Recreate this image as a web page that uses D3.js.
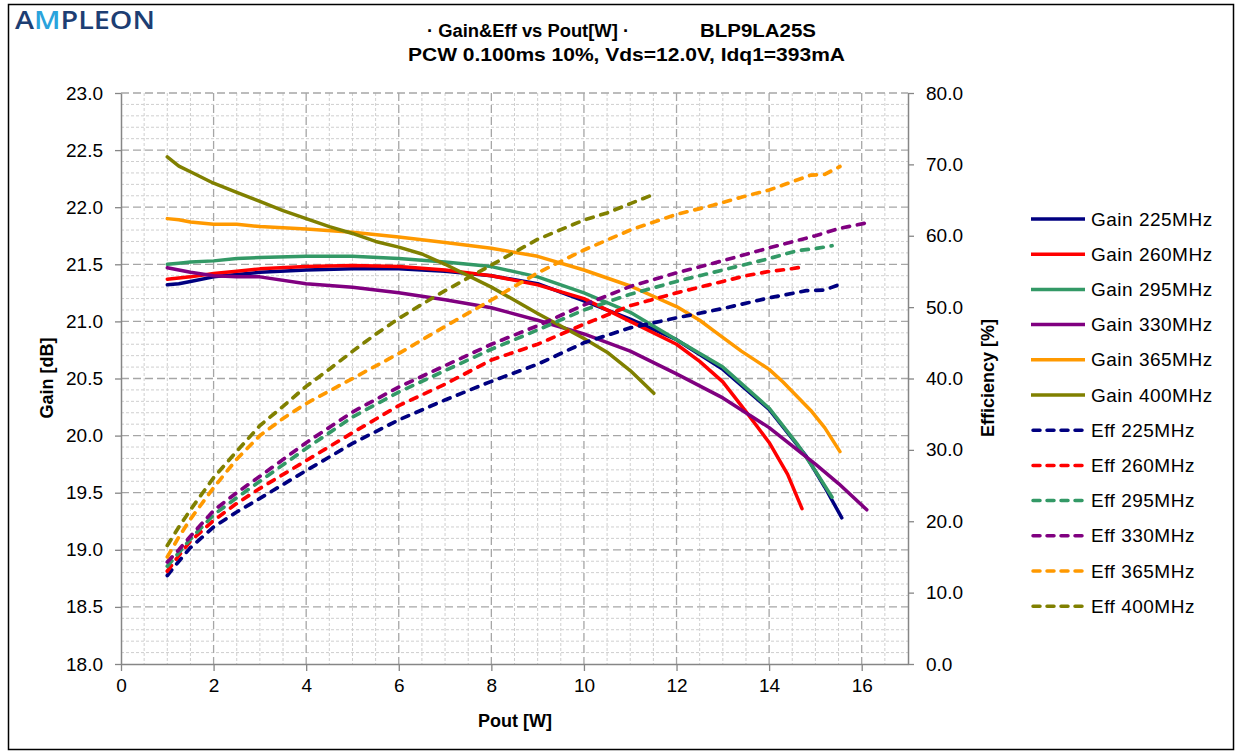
<!DOCTYPE html>
<html>
<head>
<meta charset="utf-8">
<script src="https://cdn.jsdelivr.net/npm/d3@7"></script>
<style>
  body { margin: 0; background: #fff; }
  text { font-family: Arial, "Liberation Sans", sans-serif; }
</style>
</head>
<body>
<svg id="chart" width="1240" height="753"></svg>
<script>
// ---- Measured data: Pout [W], Gain [dB], Drain efficiency [%] per frequency ----
const frequencies = ["225MHz", "260MHz", "295MHz", "330MHz", "365MHz", "400MHz"];
const seriesColors = ["#000080", "#ff0000", "#339966", "#800080", "#ff9900", "#808000"];

const pout225 = [1.0, 1.25, 1.5, 2.0, 2.5, 3.0, 4.0, 5.0, 6.0, 7.0, 8.0, 9.0, 10.0, 11.0, 12.0, 13.0, 14.0, 14.8, 15.2, 15.57];
const gain225 = [21.32, 21.33, 21.35, 21.39, 21.41, 21.43, 21.45, 21.46, 21.46, 21.44, 21.40, 21.33, 21.18, 21.02, 20.84, 20.58, 20.23, 19.82, 19.55, 19.28];
const eff225  = [12.4, 14.4, 16.3, 19.2, 21.3, 23.2, 27.1, 30.9, 34.2, 37.0, 39.6, 42.0, 45.0, 47.1, 48.5, 49.8, 51.3, 52.3, 52.4, 53.3];

const pout260 = [1.0, 1.25, 1.5, 2.0, 2.5, 3.0, 4.0, 5.0, 6.0, 7.0, 8.0, 9.0, 10.0, 11.0, 12.0, 12.5, 13.0, 13.5, 14.0, 14.4, 14.71];
const gain260 = [21.37, 21.38, 21.39, 21.42, 21.44, 21.46, 21.48, 21.49, 21.48, 21.45, 21.40, 21.32, 21.20, 21.00, 20.80, 20.65, 20.47, 20.21, 19.94, 19.66, 19.36];
const eff260  = [13.0, 15.2, 17.2, 20.1, 22.5, 24.6, 28.5, 32.4, 36.2, 39.2, 42.6, 44.8, 47.6, 50.2, 52.0, 52.8, 53.6, 54.4, 55.0, 55.3, 55.6];

const pout295 = [1.0, 1.25, 1.5, 2.0, 2.5, 3.0, 4.0, 5.0, 6.0, 7.0, 8.0, 9.0, 10.0, 11.0, 12.0, 13.0, 14.0, 14.6, 15.0, 15.36];
const gain295 = [21.50, 21.51, 21.52, 21.53, 21.55, 21.56, 21.57, 21.57, 21.55, 21.52, 21.48, 21.39, 21.25, 21.08, 20.84, 20.60, 20.24, 19.93, 19.69, 19.46];
const eff295  = [13.7, 15.6, 17.5, 20.9, 23.3, 25.6, 30.2, 34.6, 38.1, 41.1, 44.1, 46.8, 49.6, 51.8, 53.6, 55.2, 56.8, 57.9, 58.2, 58.6];

const pout330 = [1.0, 1.25, 1.5, 2.0, 2.5, 3.0, 4.0, 5.0, 6.0, 7.0, 8.0, 9.0, 10.0, 11.0, 12.0, 13.0, 14.0, 15.0, 15.5, 16.11];
const gain330 = [21.47, 21.45, 21.43, 21.40, 21.39, 21.39, 21.33, 21.30, 21.25, 21.19, 21.12, 21.01, 20.89, 20.74, 20.54, 20.33, 20.07, 19.75, 19.58, 19.35];
const eff330  = [14.3, 16.0, 17.9, 21.5, 24.0, 26.3, 31.0, 35.3, 38.8, 41.8, 44.8, 47.4, 50.3, 52.9, 54.8, 56.5, 58.3, 60.0, 61.0, 61.8];

const pout365 = [1.0, 1.25, 1.5, 2.0, 2.5, 3.0, 3.5, 4.0, 5.0, 6.0, 7.0, 8.0, 9.0, 10.0, 11.0, 12.0, 12.5, 12.8, 13.4, 14.0, 14.3, 14.9, 15.2, 15.53];
const gain365 = [21.90, 21.89, 21.87, 21.85, 21.85, 21.83, 21.82, 21.81, 21.78, 21.74, 21.69, 21.64, 21.57, 21.45, 21.31, 21.13, 21.01, 20.92, 20.74, 20.58, 20.47, 20.22, 20.07, 19.86];
const eff365  = [15.0, 17.8, 20.3, 24.7, 28.7, 32.0, 34.4, 36.5, 40.0, 43.5, 47.3, 51.0, 54.8, 58.0, 60.8, 63.0, 63.8, 64.3, 65.4, 66.4, 67.1, 68.5, 68.6, 69.7];

const pout400 = [1.0, 1.25, 1.5, 2.0, 2.5, 3.0, 3.5, 4.0, 4.5, 5.0, 5.5, 6.0, 6.5, 7.0, 8.0, 9.0, 10.0, 10.5, 11.0, 11.51];
const gain400 = [22.44, 22.36, 22.31, 22.21, 22.13, 22.05, 21.97, 21.90, 21.83, 21.77, 21.70, 21.65, 21.59, 21.50, 21.30, 21.07, 20.85, 20.73, 20.57, 20.37];
const eff400  = [16.6, 19.2, 21.6, 26.1, 29.8, 33.4, 36.1, 38.9, 41.3, 43.8, 46.2, 48.4, 50.4, 52.3, 55.9, 59.5, 62.2, 63.2, 64.5, 65.8];

// Axis tick values
const xTicks = [0, 2, 4, 6, 8, 10, 12, 14, 16];
const gainTicks = [18.0, 18.5, 19.0, 19.5, 20.0, 20.5, 21.0, 21.5, 22.0, 22.5, 23.0];
const effTicks = [0, 10, 20, 30, 40, 50, 60, 70, 80];

const poutSets = [pout225, pout260, pout295, pout330, pout365, pout400];
const gainSets = [gain225, gain260, gain295, gain330, gain365, gain400];
const effSets  = [eff225, eff260, eff295, eff330, eff365, eff400];

// ---- Layout ----
const svg = d3.select("#chart");
const plot = { left: 121, right: 908, top: 93, bottom: 664 };

const x  = d3.scaleLinear().domain([0, 17]).range([plot.left, plot.right]);
const yG = d3.scaleLinear().domain([18, 23]).range([plot.bottom, plot.top]);
const yE = d3.scaleLinear().domain([0, 80]).range([plot.bottom, plot.top]);

// Outer frame
svg.append("rect")
  .attr("x", 8.5).attr("y", 4.5).attr("width", 1225).attr("height", 745)
  .attr("fill", "#fff").attr("stroke", "#000").attr("stroke-width", 1.5);

// Logo
const logo = svg.append("text")
  .attr("x", 15).attr("y", 29)
  .attr("font-size", 25).attr("font-weight", 600)
  .style("font-family", "'Open Sans', sans-serif")
  .attr("textLength", 140).attr("lengthAdjust", "spacingAndGlyphs");
logo.append("tspan").attr("fill", "#1d3e73").text("A");
logo.append("tspan").attr("fill", "#2aa3dc").text("M");
logo.append("tspan").attr("fill", "#1d3e73").text("PLEON");

// Title
svg.append("text")
  .attr("x", 427).attr("y", 37).attr("font-size", 17.5).attr("font-weight", "bold")
  .attr("textLength", 202).attr("lengthAdjust", "spacingAndGlyphs")
  .text("· Gain&Eff vs Pout[W] ·");
svg.append("text")
  .attr("x", 700).attr("y", 37).attr("font-size", 17.5).attr("font-weight", "bold")
  .attr("textLength", 116).attr("lengthAdjust", "spacingAndGlyphs")
  .text("BLP9LA25S");
svg.append("text")
  .attr("x", 408).attr("y", 61).attr("font-size", 17.5).attr("font-weight", "bold")
  .attr("textLength", 437).attr("lengthAdjust", "spacingAndGlyphs")
  .text("PCW 0.100ms 10%, Vds=12.0V, Idq1=393mA");

// ---- Grid ----
const grid = svg.append("g");
const vLines = d3.range(1, 34).map(i => ({ v: i * 0.5, major: i % 4 === 0 }));
const hLines = d3.range(1, 51).map(i => ({ v: 18 + i * 0.1, major: i % 5 === 0 }));

function gridStyle(sel) {
  sel.attr("stroke", d => d.major ? "#a6a6a6" : "#cfcfcf")
     .attr("stroke-width", d => d.major ? 1.3 : 1)
     .attr("stroke-dasharray", d => d.major ? "8,4" : "3,2");
}
grid.selectAll(".vmin").data(vLines.filter(d => !d.major)).join("line")
  .attr("x1", d => x(d.v)).attr("x2", d => x(d.v))
  .attr("y1", plot.top).attr("y2", plot.bottom).call(gridStyle);
grid.selectAll(".hmin").data(hLines.filter(d => !d.major)).join("line")
  .attr("y1", d => yG(d.v)).attr("y2", d => yG(d.v))
  .attr("x1", plot.left).attr("x2", plot.right).call(gridStyle);
grid.selectAll(".vmaj").data(vLines.filter(d => d.major)).join("line")
  .attr("x1", d => x(d.v)).attr("x2", d => x(d.v))
  .attr("y1", plot.top).attr("y2", plot.bottom).call(gridStyle);
grid.selectAll(".hmaj").data(hLines.filter(d => d.major)).join("line")
  .attr("y1", d => yG(d.v)).attr("y2", d => yG(d.v))
  .attr("x1", plot.left).attr("x2", plot.right).call(gridStyle);

// ---- Axes ----
const axisColor = "#868686";
function styleAxis(g) {
  g.selectAll(".domain").attr("stroke", axisColor).attr("stroke-width", 1.5);
  g.selectAll(".tick line").attr("stroke", axisColor).attr("stroke-width", 1.3);
  g.selectAll(".tick text").attr("fill", "#000").attr("font-size", 19)
    .style("font-family", "Arial, 'Liberation Sans', sans-serif");
}
svg.append("g").attr("transform", `translate(0,${plot.bottom})`)
  .call(d3.axisBottom(x).tickValues(xTicks).tickFormat(d3.format("d")).tickSize(7).tickSizeOuter(0).tickPadding(8))
  .call(styleAxis);
svg.append("g").attr("transform", `translate(${plot.left},0)`)
  .call(d3.axisLeft(yG).tickValues(gainTicks).tickFormat(d3.format(".1f")).tickSize(6).tickSizeOuter(0).tickPadding(12))
  .call(styleAxis);
svg.append("g").attr("transform", `translate(${plot.right},0)`)
  .call(d3.axisRight(yE).tickValues(effTicks).tickFormat(d3.format(".1f")).tickSize(6).tickSizeOuter(0).tickPadding(12))
  .call(styleAxis);

// Axis titles
svg.append("text").attr("transform", "translate(53,378) rotate(-90)")
  .attr("text-anchor", "middle").attr("font-size", 18).attr("font-weight", "bold")
  .text("Gain [dB]");
svg.append("text").attr("transform", "translate(994,378) rotate(-90)")
  .attr("text-anchor", "middle").attr("font-size", 18).attr("font-weight", "bold")
  .text("Efficiency [%]");
svg.append("text").attr("x", 515).attr("y", 727)
  .attr("text-anchor", "middle").attr("font-size", 18).attr("font-weight", "bold")
  .text("Pout [W]");

// ---- Curves ----
const lines = svg.append("g");
const gainLine = d3.line().x(d => x(d[0])).y(d => yG(d[1]));
const effLine  = d3.line().x(d => x(d[0])).y(d => yE(d[1]));

frequencies.forEach((f, i) => {
  const pts = poutSets[i].map((p, k) => [p, gainSets[i][k]]);
  lines.append("path").attr("d", gainLine(pts))
    .attr("fill", "none").attr("stroke", seriesColors[i]).attr("stroke-width", 3.5)
    .attr("stroke-linejoin", "round").attr("stroke-linecap", "round");
});
frequencies.forEach((f, i) => {
  const pts = poutSets[i].map((p, k) => [p, effSets[i][k]]);
  lines.append("path").attr("d", effLine(pts))
    .attr("fill", "none").attr("stroke", seriesColors[i]).attr("stroke-width", 3.7)
    .attr("stroke-dasharray", "7,8").attr("stroke-linecap", "round");
});

// ---- Legend ----
const legendItems = [
  ...frequencies.map((f, i) => ({ label: "Gain " + f, color: seriesColors[i], dashed: false })),
  ...frequencies.map((f, i) => ({ label: "Eff " + f, color: seriesColors[i], dashed: true }))
];
const legend = svg.append("g");
const rows = legend.selectAll("g").data(legendItems).join("g")
  .attr("transform", (d, i) => `translate(0,${219 + i * 35.2})`);
rows.append("line")
  .attr("x1", d => d.dashed ? 1033 : 1031).attr("x2", 1085).attr("y1", 0).attr("y2", 0)
  .attr("stroke", d => d.color).attr("stroke-width", 3.5)
  .attr("stroke-dasharray", d => d.dashed ? "7,7" : null)
  .attr("stroke-linecap", d => d.dashed ? "round" : "butt");
rows.append("text")
  .attr("x", 1091).attr("y", 0).attr("dy", "0.35em")
  .attr("font-size", 19).attr("letter-spacing", 0.5)
  .text(d => d.label);
</script>
</body>
</html>
